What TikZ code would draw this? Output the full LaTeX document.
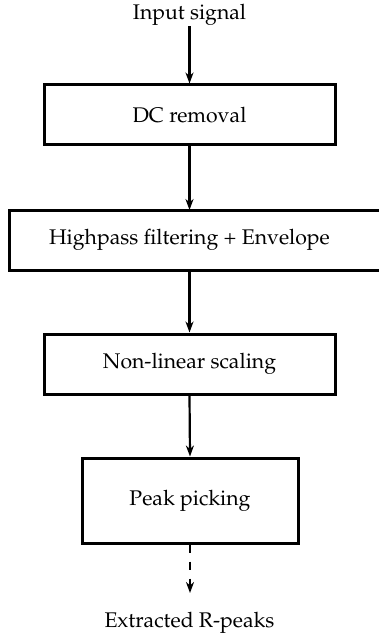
\documentclass[tikz,border=0pt]{standalone}
\usepackage[T1]{fontenc}
\usepackage{mathpazo}
\usetikzlibrary{arrows.meta}
\begin{document}
\begin{tikzpicture}[x=1pt,y=-1pt,
  every node/.style={font=\fontsize{21.2}{24}\selectfont},
  stage/.style={draw, line width=3pt, inner sep=0pt},
  flow/.style={line width=2.2pt, -{Stealth[length=11pt,width=8pt,inset=3.5pt]}},
  flowdash/.style={flow, dash pattern=on 8pt off 9pt}]
  \useasboundingbox (0,0) rectangle (378,639);

  % input and output labels
  \node[inner sep=0pt, anchor=base] (in) at (189.5,20) {Input signal};
  \node[inner sep=0pt, anchor=base] (out) at (189.5,627) {Extracted R-peaks};

  % processing stages
  \node[stage, minimum width=291pt, minimum height=60pt] (dc) at (189.5,115) {DC removal};
  \draw[line width=3pt] (9,210) rectangle (392,270);
  \node[inner sep=0pt] (hp) at (189.5,240) {Highpass filtering + Envelope};
  \coordinate (hpN) at (189.5,210);
  \coordinate (hpS) at (189.5,270);
  \node[stage, minimum width=291pt, minimum height=60pt] (nl) at (189.5,364) {Non-linear scaling};
  \node[stage, minimum width=216pt, minimum height=85pt] (pk) at (190,500.5) {Peak picking};
  \coordinate (pkEnd) at (190,593);

  % connectors
  \draw[flow] (in.south) -- (dc.north);
  \draw[flow] (dc.south) -- (hpN);
  \draw[flow] (hpS) -- (nl.north);
  \draw[flow] (nl.south) -- (pk.north);
  \draw[flowdash] (pk.south) -- (pkEnd);
\end{tikzpicture}
\end{document}
